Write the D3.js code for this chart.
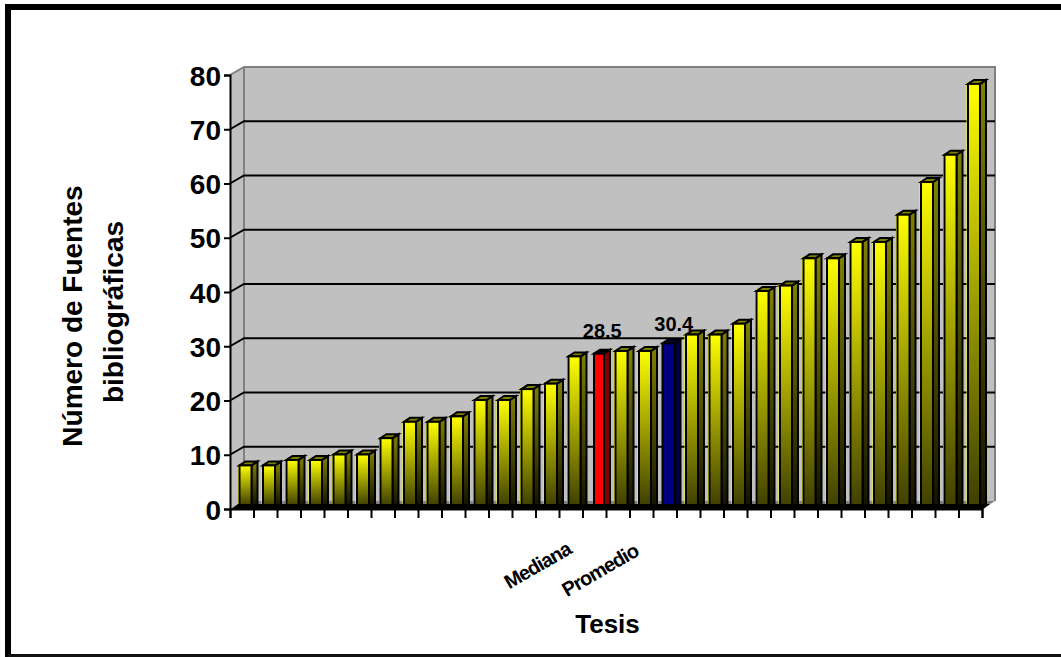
<!DOCTYPE html>
<html>
<head>
<meta charset="utf-8">
<script src="https://cdn.jsdelivr.net/npm/d3@7"></script>
<style>
  html, body { margin: 0; padding: 0; background: #fff; overflow: hidden; }
  text { font-family: "Liberation Sans", Arial, sans-serif; font-weight: bold; fill: #000; }
</style>
</head>
<body>
<div id="chart"></div>
<script>
// values, sorted like the original
const fuentes = [8, 8, 9, 9, 10, 10, 13, 16, 16, 17, 20, 20, 22, 23, 28, 28.5,
  29, 29, 30.4, 32, 32, 34, 40, 41, 46, 46, 49, 49, 54, 60, 65, 78];
const yTicks = [0, 10, 20, 30, 40, 50, 60, 70, 80];
const medianaIdx = 15;
const promedioIdx = 18;
const axisTitleLines = ["Número de Fuentes", "bibliográficas"];

const width = 1061, height = 657;
const plotL = 230, plotR = 982, plotT = 75, plotB = 509;
const depthX = 14, depthY = 8;   // wall offset of the fake 3d box
const barDX = 6, barDY = 4;      // bar offset
const barW = 12, barBase = 505;

const svg = d3.select("#chart").append("svg")
  .attr("width", width)
  .attr("height", height)
  .style("display", "block");

// frame (right side runs off the picture)
svg.append("path")
  .attr("d", `M${width},7 H8 V${height} `)
  .attr("fill", "none").attr("stroke", "#000").attr("stroke-width", 6);
svg.append("line")
  .attr("x1", 8).attr("x2", width).attr("y1", 655.5).attr("y2", 655.5)
  .attr("stroke", "#111").attr("stroke-width", 3);

const y = d3.scaleLinear().domain([0, 80]).range([plotB, plotT]);
const yBar = d3.scaleLinear().domain([0, 80]).range([plotB, plotT - 2]);
const x = d3.scaleBand().domain(d3.range(fuentes.length)).range([plotL, plotR]);
const xTick = d3.scaleLinear().domain([0, fuentes.length]).range([plotL, plotR]);

const defs = svg.append("defs");
function grad(id, c0, c1) {
  const g = defs.append("linearGradient").attr("id", id)
    .attr("x1", 0).attr("x2", 0).attr("y1", 0).attr("y2", 1);
  g.append("stop").attr("offset", 0).attr("stop-color", c0);
  g.append("stop").attr("offset", 1).attr("stop-color", c1);
}
grad("front", "#ffff00", "#404000");
grad("side", "#808000", "#141400");

// walls
const walls = svg.append("g");
walls.append("polygon")
  .attr("points", `${plotL},${plotT} ${plotL + depthX},${plotT - depthY} ${plotR + depthX - 1},${plotT - depthY} ${plotR + depthX - 1},${plotB - depthY} ${plotR},${plotB} ${plotL},${plotB}`)
  .attr("fill", "#c0c0c0");
walls.append("polyline")
  .attr("points", `${plotL},${plotT} ${plotL + depthX},${plotT - depthY} ${plotR + depthX - 1},${plotT - depthY} ${plotR + depthX - 1},${plotB - depthY}`)
  .attr("fill", "none").attr("stroke", "#808080").attr("stroke-width", 2);
walls.append("line")
  .attr("x1", plotL + depthX).attr("x2", plotL + depthX)
  .attr("y1", plotT - depthY).attr("y2", plotB - depthY)
  .attr("stroke", "#808080").attr("stroke-width", 2);

// gridlines, back wall plus the bit on the side wall
walls.selectAll("polyline.grid")
  .data(yTicks.filter(d => d > 0 && d < 80))
  .join("polyline")
  .attr("class", "grid")
  .attr("points", d => `${plotL},${y(d)} ${plotL + depthX},${y(d) - depthY} ${plotR + depthX - 1},${y(d) - depthY}`)
  .attr("fill", "none").attr("stroke", "#000").attr("stroke-width", 2);

// floor
walls.append("polygon")
  .attr("points", `${plotL},${plotB} ${plotL + depthX},${plotB - depthY} ${plotR + depthX - 1},${plotB - depthY} ${plotR},${plotB}`)
  .attr("fill", "#808080");
walls.append("polygon")
  .attr("points", `${plotL},${plotB + 1} ${plotL + 8},${barBase - 1} ${plotR + 8},${barBase - 1} ${plotR},${plotB + 1}`)
  .attr("fill", "#000");

// bars
const colorOf = i => i === medianaIdx ? { front: "#ff0000", side: "#800000", top: "#000" }
  : i === promedioIdx ? { front: "#000080", side: "#000040", top: "#000040" }
  : { front: "url(#front)", side: "url(#side)", top: "#808000" };

const bars = svg.selectAll("g.bar")
  .data(fuentes)
  .join("g")
  .attr("class", "bar")
  .attr("transform", (d, i) => `translate(${x(i) + 9.5},0)`);

bars.each(function (d, i) {
  const g = d3.select(this);
  const c = colorOf(i);
  const inset = i === medianaIdx ? 2 : 0;
  const w = barW - inset;
  const t = yBar(d);
  const plain = i !== medianaIdx && i !== promedioIdx;
  if (plain) {
    g.append("rect").attr("x", -1.5).attr("y", t - 1.5).attr("width", w).attr("height", barBase - t)
      .attr("fill", "#ffff00");
  }
  g.append("polygon") // side
    .attr("points", `${inset + w},${t} ${inset + w + barDX},${t - barDY} ${inset + w + barDX},${barBase} ${inset + w},${barBase}`)
    .attr("fill", c.side).attr("stroke", "#000").attr("stroke-width", 2);
  g.append("polygon") // cap
    .attr("points", `${inset},${t} ${inset + barDX},${t - barDY} ${inset + w + barDX},${t - barDY} ${inset + w},${t}`)
    .attr("fill", c.top).attr("stroke", "#000").attr("stroke-width", 2);
  g.append("rect")
    .attr("x", inset).attr("y", t).attr("width", w).attr("height", barBase - t)
    .attr("fill", c.front).attr("stroke", "#000").attr("stroke-width", 2);
});

// front axes
const yAxis = d3.axisLeft(y).tickValues(yTicks).tickSize(6).tickPadding(3);
const yG = svg.append("g").attr("transform", `translate(${plotL},0)`).call(yAxis);
yG.selectAll("text").style("font-size", "28px").attr("dy", "0.36em");
yG.selectAll("line").attr("stroke", "#000").attr("stroke-width", 2);
yG.select(".domain").attr("stroke", "#000").attr("stroke-width", 2);

const xAxis = d3.axisBottom(xTick).tickValues(d3.range(fuentes.length + 1)).tickSize(9).tickFormat("");
const xG = svg.append("g").attr("transform", `translate(0,${plotB})`).call(xAxis);
xG.selectAll("line").attr("stroke", "#000").attr("stroke-width", 2);
xG.select(".domain").attr("stroke", "#000").attr("stroke-width", 2);

// value labels on the two marked bars
svg.append("text").attr("x", x(medianaIdx) + x.bandwidth() / 2 + 8).attr("y", yBar(fuentes[medianaIdx]) - 16)
  .attr("text-anchor", "middle").style("font-size", "20px").text(fuentes[medianaIdx]);
svg.append("text").attr("x", x(promedioIdx) + x.bandwidth() / 2 + 9).attr("y", yBar(fuentes[promedioIdx]) - 12)
  .attr("text-anchor", "middle").style("font-size", "20px").text(fuentes[promedioIdx]);

// slanted category labels
svg.append("text")
  .attr("transform", `translate(${x(medianaIdx) - 10},${plotB + 44}) rotate(-30)`)
  .attr("text-anchor", "end").style("font-size", "20px").style("letter-spacing", "-1px")
  .text("Mediana");
svg.append("text")
  .attr("transform", `translate(${x(promedioIdx) - 13},${plotB + 46}) rotate(-30)`)
  .attr("text-anchor", "end").style("font-size", "20px").style("letter-spacing", "-1px")
  .text("Promedio");

// axis titles
svg.append("text").attr("x", 607.5).attr("y", 633).attr("text-anchor", "middle")
  .style("font-size", "26px").text("Tesis");

svg.selectAll("text.ytitle")
  .data(axisTitleLines)
  .join("text")
  .attr("class", "ytitle")
  .attr("transform", (d, i) => `translate(${82 + i * 41},${i === 0 ? 316 : 312}) rotate(-90)`)
  .attr("text-anchor", "middle")
  .style("font-size", "28px")
  .text(d => d);
</script>
</body>
</html>
